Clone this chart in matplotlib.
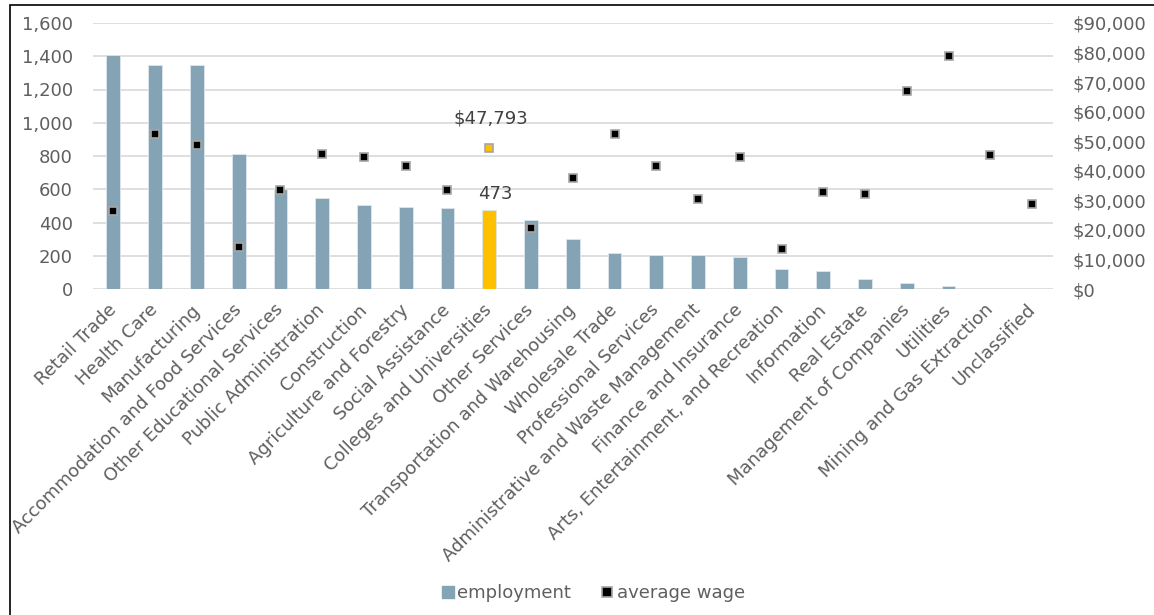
import matplotlib
matplotlib.use("Agg")
import matplotlib.pyplot as plt
from matplotlib.lines import Line2D
from matplotlib.patches import Rectangle
from matplotlib.ticker import FuncFormatter, MultipleLocator

categories = ["Retail Trade", "Health Care", "Manufacturing",
              "Accommodation and Food Services", "Other Educational Services",
              "Public Administration", "Construction", "Agriculture and Forestry",
              "Social Assistance", "Colleges and Universities", "Other Services",
              "Transportation and Warehousing", "Wholesale Trade",
              "Professional Services", "Administrative and Waste Management",
              "Finance and Insurance", "Arts, Entertainment, and Recreation",
              "Information", "Real Estate", "Management of Companies",
              "Utilities", "Mining and Gas Extraction", "Unclassified"]
employment = [1410, 1345, 1345, 810, 600, 547, 507, 495, 485, 473, 415, 300,
              215, 205, 205, 194, 118, 108, 58, 36, 18, 0, 0]
average_wage = [26400, 52300, 48800, 14100, 33500, 45800, 44800, 41700, 33400,
                47793, 20500, 37700, 52400, 41700, 30600, 44800, 13500, 32900,
                32300, 67000, 78700, 45300, 28900]
highlight = "Colleges and Universities"

BLUE = "#84a3b4"
GOLD = "#ffc000"
TXT = "#5f5f5f"
GRID = "#d9d9d9"

W, H = 1154, 615
fig = plt.figure(figsize=(W / 100, H / 100), dpi=100)
ax = fig.add_axes([92.5 / W, 1 - 289 / H, (1053 - 92.5) / W, (289 - 23) / H])
ax2 = ax.twinx()

x = list(range(len(categories)))
bar_colors = [GOLD if c == highlight else BLUE for c in categories]
ax.bar(x, employment, width=0.33, color=bar_colors, edgecolor="#dde6ec",
       linewidth=0.6, zorder=2)

for xi, c, w in zip(x, categories, average_wage):
    ax2.plot([xi], [w], marker="s", linestyle="none", markersize=6,
             markerfacecolor=GOLD if c == highlight else "black",
             markeredgecolor="#a6a6a6", markeredgewidth=1.2, zorder=3)

hi = categories.index(highlight)
ax.text(hi + 0.15, employment[hi] + 45, f"{employment[hi]:,}", ha="center",
        va="bottom", fontsize=13, color="#404040")
ax2.text(hi + 0.05, average_wage[hi] + 7000, f"${average_wage[hi]:,}",
         ha="center", va="bottom", fontsize=13, color="#404040")

ax.set_xlim(-0.5, len(categories) - 0.5)
ax.set_ylim(0, 1600)
ax2.set_ylim(0, 90000)
ax.yaxis.set_major_locator(MultipleLocator(200))
ax2.yaxis.set_major_locator(MultipleLocator(10000))
ax.yaxis.set_major_formatter(FuncFormatter(lambda v, p: f"{int(v):,}"))
ax2.yaxis.set_major_formatter(FuncFormatter(lambda v, p: f"${int(v):,}"))

ax.set_xticks(x)
ax.set_xticklabels(categories, rotation=45, ha="right", va="center",
                   rotation_mode="anchor", fontsize=13, color=TXT)
ax.tick_params(axis="x", length=0, pad=13)
ax.tick_params(axis="y", length=0, pad=14, labelsize=13, labelcolor=TXT)
ax2.tick_params(axis="y", length=0, pad=14, labelsize=13, labelcolor=TXT)

ax.grid(axis="y", color=GRID, linewidth=1.2, zorder=0)
ax.set_axisbelow(True)
for a in (ax, ax2):
    for s in a.spines.values():
        s.set_visible(False)

handles = [Line2D([], [], marker="s", linestyle="none", markersize=8,
                  markerfacecolor=BLUE, markeredgecolor=BLUE),
           Line2D([], [], marker="s", linestyle="none", markersize=7,
                  markerfacecolor="black", markeredgecolor="#a6a6a6",
                  markeredgewidth=1.2)]
fig.legend(handles, ["employment", "average wage"], loc="center",
           bbox_to_anchor=(592 / W, 1 - 593 / H), ncol=2, frameon=False,
           fontsize=13, labelcolor=TXT, handletextpad=0.05, columnspacing=1.5,
           handlelength=1.0)

fig.patches.append(Rectangle((10 / W, -0.01), 1.0, 1 - 5 / H + 0.01,
                             transform=fig.transFigure, fill=False,
                             edgecolor="black", linewidth=1.2))

fig.savefig("out.png", dpi=100)
